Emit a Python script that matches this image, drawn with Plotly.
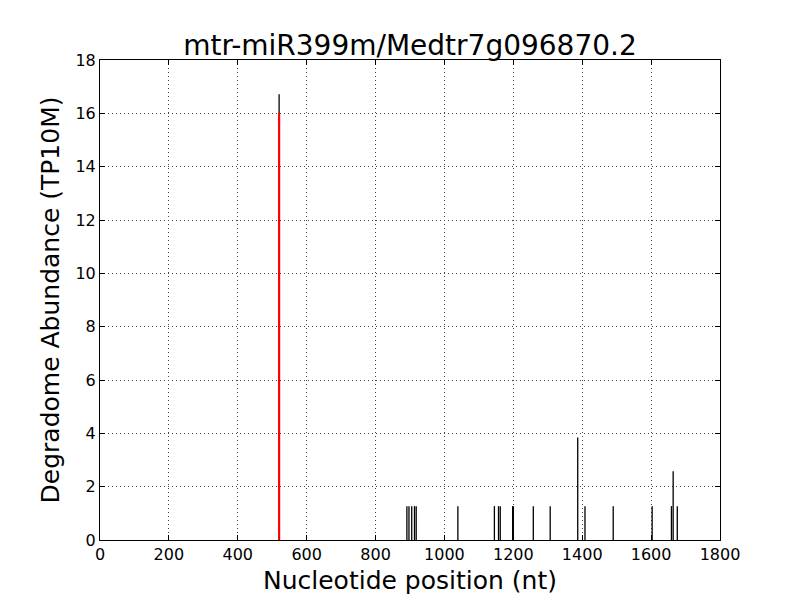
import plotly.graph_objects as go

positions = [891, 897, 905, 913, 918, 1039, 1145, 1157, 1162, 1198, 1200,
             1258, 1307, 1387, 1408, 1490, 1603, 1659, 1664, 1676, 520]
abundance = [1.27, 1.27, 1.27, 1.27, 1.27, 1.27, 1.27, 1.27, 1.27, 1.27, 1.27,
             1.27, 1.27, 3.84, 1.27, 1.27, 1.27, 1.27, 2.58, 1.27, 16.72]
site_position = [520]
site_abundance = [16.0]

title_text = "mtr-miR399m/Medtr7g096870.2"
x_label = "Nucleotide position (nt)"
y_label = "Degradome Abundance (TP10M)"
x_ticks = [0, 200, 400, 600, 800, 1000, 1200, 1400, 1600, 1800]
y_ticks = [0, 2, 4, 6, 8, 10, 12, 14, 16, 18]


def vline_xy(xs, ys):
    vx, vy = [], []
    for x, y in zip(xs, ys):
        vx += [x, x, None]
        vy += [0, y, None]
    return vx, vy


fig = go.Figure()
bx, by = vline_xy(positions, abundance)
fig.add_trace(go.Scatter(x=bx, y=by, mode="lines",
                         line=dict(color="black", width=1.3),
                         hoverinfo="skip", showlegend=False))
rx, ry = vline_xy(site_position, site_abundance)
fig.add_trace(go.Scatter(x=rx, y=ry, mode="lines",
                         line=dict(color="red", width=2.2),
                         hoverinfo="skip", showlegend=False))

font_family = "DejaVu Sans"
axis_common = dict(
    showline=True, linecolor="black", linewidth=1, mirror="ticks",
    ticks="inside", ticklen=5, tickcolor="black", tickwidth=1,
    showgrid=True, gridcolor="#444444", griddash="1px,3px", gridwidth=1,
    zeroline=False, automargin=False,
    tickfont=dict(family=font_family, size=16, color="black"),
)

fig.update_layout(
    width=800, height=600,
    paper_bgcolor="white", plot_bgcolor="white",
    margin=dict(l=92, r=88, t=52, b=68),
    title=dict(text=title_text, x=(410 - 8) / 800, xanchor="center",
               y=1 - 37 / 600, yanchor="middle",
               font=dict(family=font_family, size=28, color="black")),
    xaxis=dict(range=[0, 1800], tickvals=x_ticks,
               title=dict(text=x_label, standoff=8,
                          font=dict(family=font_family, size=25, color="black")),
               **axis_common),
    yaxis=dict(range=[0, 18], tickvals=y_ticks,
               title=dict(text=y_label, standoff=8,
                          font=dict(family=font_family, size=25, color="black")),
               **axis_common),
)

fig.write_html("out.html")
